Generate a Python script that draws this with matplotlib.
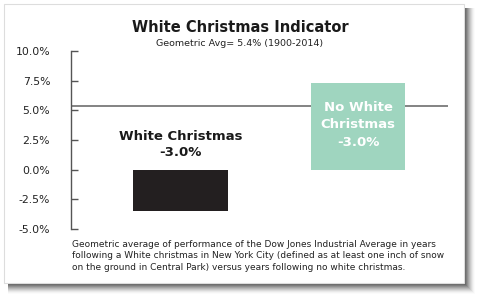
import matplotlib.pyplot as plt
from matplotlib.patches import Rectangle

# data
categories = ["White Christmas", "No White Christmas"]
bar_values = [-3.5, 7.3]
bar_labels = ["White Christmas\n-3.0%", "No White\nChristmas\n-3.0%"]
avg_value = 5.4
y_ticks = [10.0, 7.5, 5.0, 2.5, 0.0, -2.5, -5.0]
y_tick_labels = ["10.0%", "7.5%", "5.0%", "2.5%", "0.0%", "-2.5%", "-5.0%"]

plt.rcParams["font.family"] = ["DejaVu Sans"]

W, H = 480, 297
fig = plt.figure(figsize=(W / 100, H / 100), dpi=100)
fig.patch.set_facecolor("white")


def fx(px):
    return px / W


def fy(py):
    return 1 - py / H


# card shadow (right and bottom), fading out
for i in range(11):
    a = 0.16 * (1 - i / 11)
    fig.patches.append(Rectangle((fx(8), fy(284 + i)), fx(457 + i), (284 + i - 8) / H,
                                 transform=fig.transFigure, facecolor="black",
                                 alpha=a, edgecolor="none", zorder=0))
# card
fig.patches.append(Rectangle((fx(4), fy(283)), fx(460), 279 / H, transform=fig.transFigure,
                             facecolor="white", edgecolor="#dddddd", linewidth=0.8, zorder=1))

ax = fig.add_axes([fx(71), fy(229), fx(448 - 71), (229 - 51) / H])
ax.set_facecolor("none")
ax.set_zorder(2)

x = [0, 1]
colors = ["#231f20", "#9fd5bf"]
ax.bar(x, bar_values, width=0.535, color=colors, zorder=2)
ax.axhline(avg_value, color="#6e6e6e", linewidth=1.2, zorder=1)

ax.set_xlim(-0.617, 1.507)
ax.set_ylim(-5, 10)
ax.set_yticks(y_ticks)
ax.set_yticklabels(y_tick_labels, fontsize=7.8, color="#222222")
ax.set_xticks([])
for s in ["top", "right", "bottom"]:
    ax.spines[s].set_visible(False)
ax.spines["left"].set_color("#555555")
ax.spines["left"].set_linewidth(1.0)
ax.tick_params(axis="y", direction="in", length=5, width=1.0, color="#555555", pad=15)

ax.text(0, 2.1, bar_labels[0], ha="center", va="center", fontsize=9.5, fontweight="bold",
        color="#1a1a1a", linespacing=1.35)
ax.text(1, 3.8, bar_labels[1], ha="center", va="center", fontsize=9.5, fontweight="bold",
        color="white", linespacing=1.45)

fig.text(0.5, fy(27), "White Christmas Indicator", ha="center", va="center",
         fontsize=10.5, fontweight="bold", color="#1a1a1a")
fig.text(0.5, fy(44), "Geometric Avg= 5.4% (1900-2014)", ha="center", va="center",
         fontsize=6.8, color="#222222")
fig.text(fx(72), fy(256), "Geometric average of performance of the Dow Jones Industrial Average in years\n"
         "following a White christmas in New York City (defined as at least one inch of snow\n"
         "on the ground in Central Park) versus years following no white christmas.",
         ha="left", va="center", fontsize=6.45, color="#222222", linespacing=1.35)

fig.savefig("out.png", dpi=100)
